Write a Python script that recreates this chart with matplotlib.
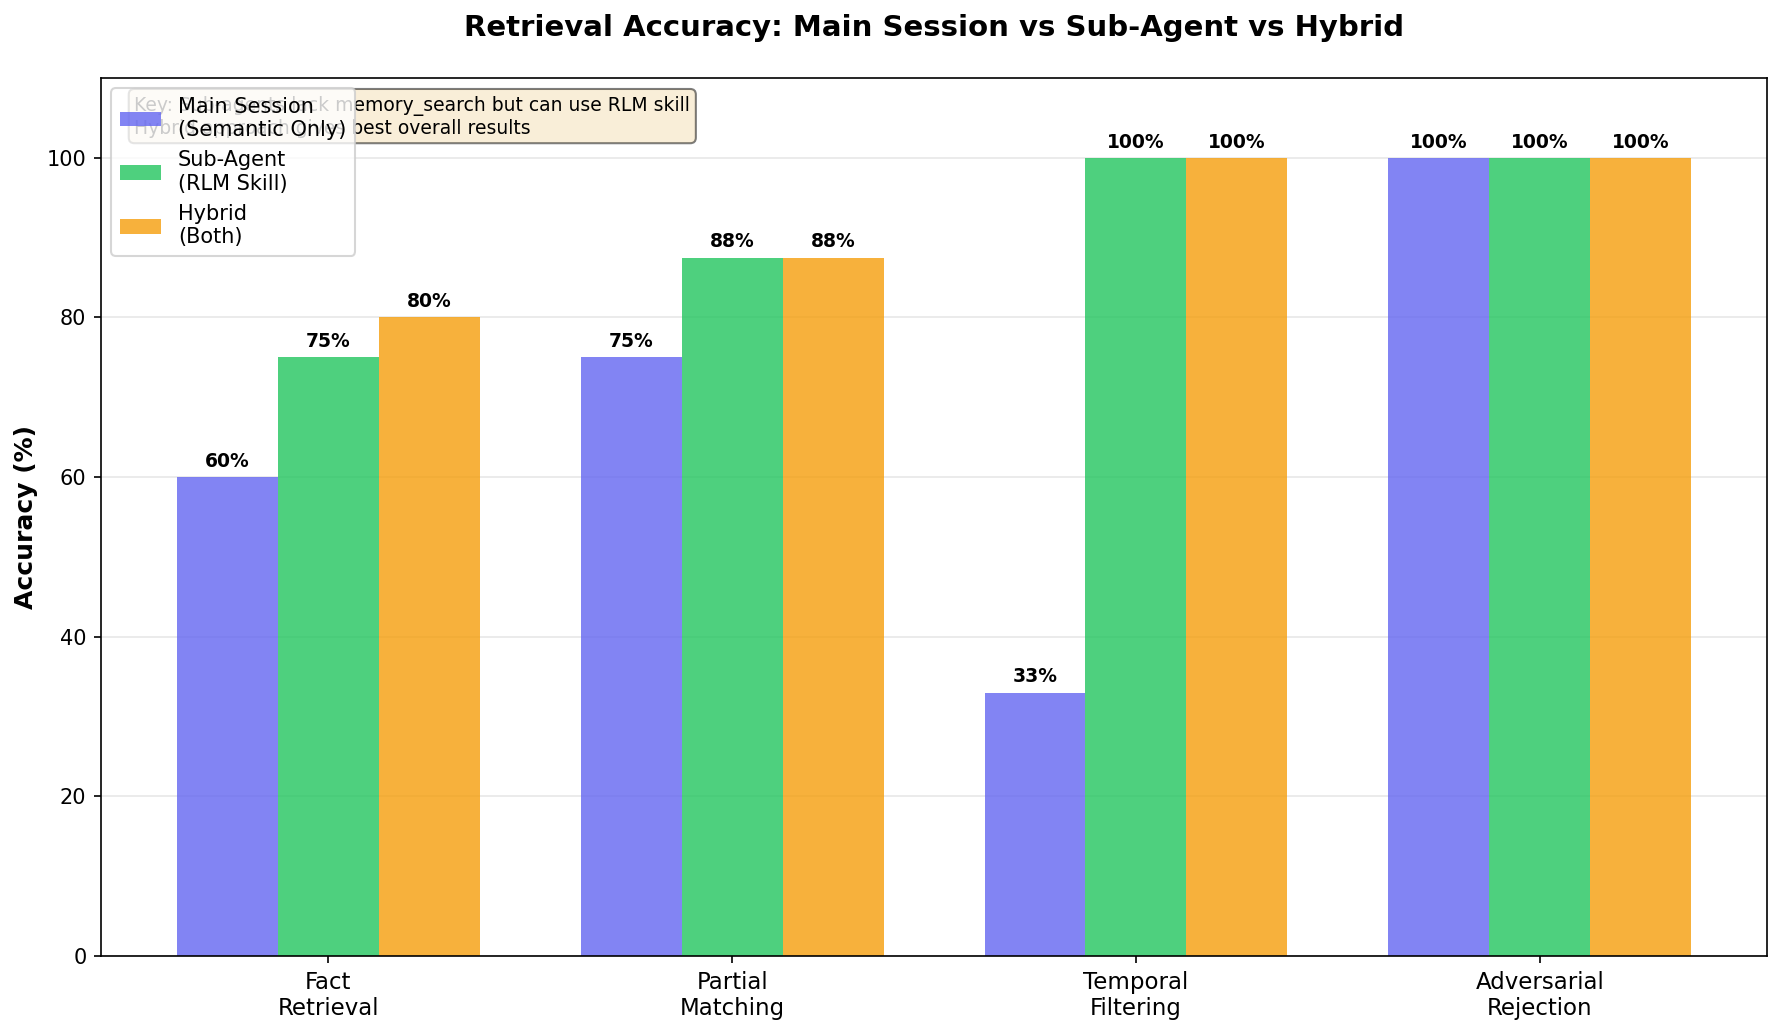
import numpy as np
import matplotlib
matplotlib.use("Agg")
import matplotlib.pyplot as plt

# Data.
categories = ["Fact\nRetrieval", "Partial\nMatching", "Temporal\nFiltering", "Adversarial\nRejection"]
main_session = [60, 75, 33, 100]
sub_agent = [75, 87.5, 100, 100]
hybrid = [80, 87.5, 100, 100]
series_labels = ["Main Session\n(Semantic Only)", "Sub-Agent\n(RLM Skill)", "Hybrid\n(Both)"]
series_colors = ["#6366f1", "#22c55e", "#f59e0b"]
key_text = ("Key: Sub-agents lack memory_search but can use RLM skill\n"
            "Hybrid approach gives best overall results")

x = np.arange(len(categories))
width = 0.25

fig, ax = plt.subplots(figsize=(11.88, 6.9), dpi=150)
fig.subplots_adjust(left=0.0567, right=0.9916, top=0.9246, bottom=0.0763)

all_series = [main_session, sub_agent, hybrid]
offsets = [-width, 0, width]
for vals, lab, col, off in zip(all_series, series_labels, series_colors, offsets):
    bars = ax.bar(x + off, vals, width, label=lab, color=col, alpha=0.8)
    for b, v in zip(bars, vals):
        ax.annotate(f"{v:.0f}%", xy=(b.get_x() + b.get_width() / 2, b.get_height()),
                    xytext=(0, 3), textcoords="offset points",
                    ha="center", va="bottom", fontsize=9, fontweight="bold")

ax.set_ylabel("Accuracy (%)", fontsize=12, fontweight="bold")
ax.set_title("Retrieval Accuracy: Main Session vs Sub-Agent vs Hybrid",
             fontsize=14, fontweight="bold", pad=20)
ax.set_xticks(x)
ax.set_xticklabels(categories, fontsize=11)
ax.set_ylim(0, 110)
ax.grid(axis="y", alpha=0.3)
ax.set_axisbelow(True)

# Note box sits behind the legend, as in the original.
ax.text(0.02, 0.98, key_text, transform=ax.transAxes, fontsize=9,
        va="top", bbox=dict(boxstyle="round", facecolor="wheat", alpha=0.5))
ax.legend(loc="upper left", fontsize=10)

plt.savefig("out.png", dpi=150)
